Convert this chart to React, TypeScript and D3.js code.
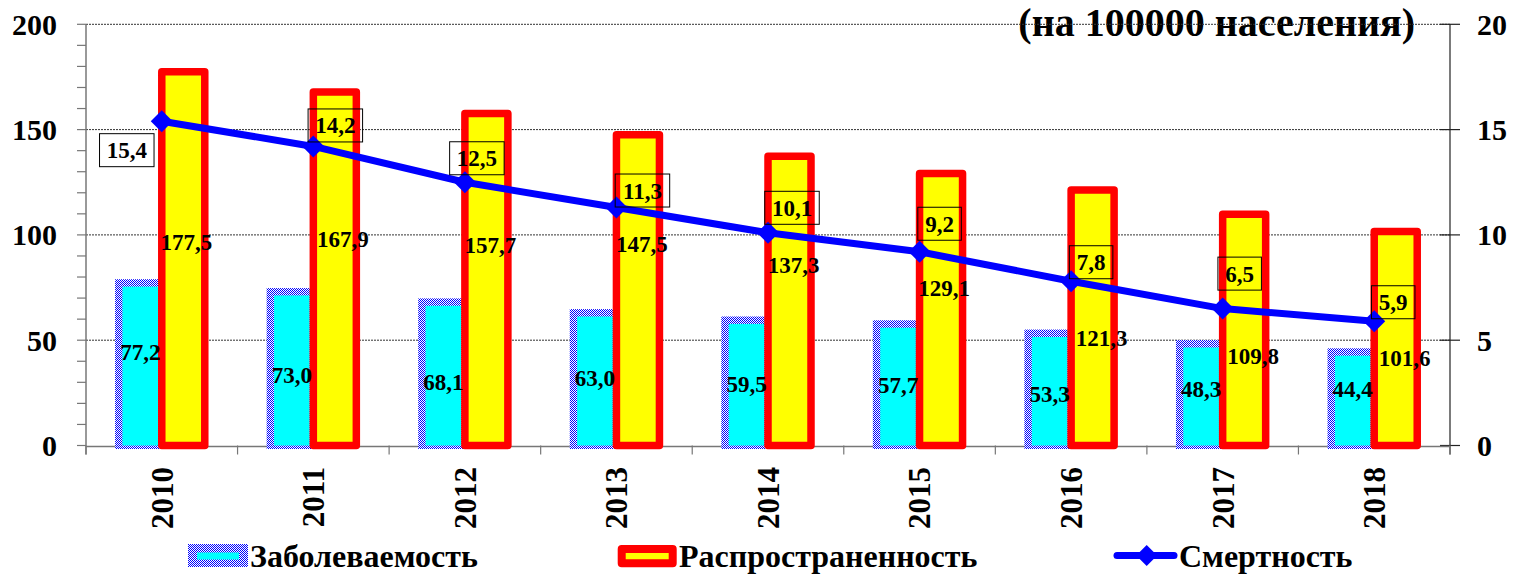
import React from "react";
import * as d3 from "d3";

// Incidence, prevalence and mortality per 100 000 population, 2010–2018
const years = ["2010", "2011", "2012", "2013", "2014", "2015", "2016", "2017", "2018"];
const incidence = [77.2, 73.0, 68.1, 63.0, 59.5, 57.7, 53.3, 48.3, 44.4];
const prevalence = [177.5, 167.9, 157.7, 147.5, 137.3, 129.1, 121.3, 109.8, 101.6];
const mortality = [15.4, 14.2, 12.5, 11.3, 10.1, 9.2, 7.8, 6.5, 5.9];
const leftTicks = [0, 50, 100, 150, 200];
const rightTicks = [0, 5, 10, 15, 20];
const seriesNames = ["Заболеваемость", "Распространенность", "Смертность"];
const unitTitle = "(на 100000 населения)";

// hand-placed label nudges (pixels)
const incLabelDy = [-12, 6, 8, -1, 1, 0, 5, -6, -10];
const prevLabelDx = [3, 8, 4, 4, 4, 3, 9, 9, 9];
const prevLabelDy = [-17, -30, -34, -46, -36, -22, 20, 26, 19];
const mortLabelDx = [-35, 22, 12, 26, 24, 20, 20, 17, 19];
const mortLabelDy = [29, -21, -24, -17, -25, -28, -19, -35, -19];

const fmt = (v: number) => v.toFixed(1).replace(".", ",");
const FONT = "'Liberation Serif', 'Times New Roman', serif";

export default function App() {
  const W = 1513;
  const H = 574;
  const left = 86;
  const right = 1450;
  const top = 24.3;
  const bottom = 445.5;

  const x = d3.scaleBand<string>().domain(years).range([left, right]).paddingInner(0).paddingOuter(0);
  const yL = d3.scaleLinear().domain([0, 200]).range([bottom, top]);
  const yR = d3.scaleLinear().domain([0, 20]).range([bottom, top]);
  const cx = (i: number) => (x(years[i]) as number) + x.bandwidth() / 2;
  const barW = 43;
  const minorTicks = d3.range(0, 201, 10);

  const line = d3
    .line<number>()
    .x((_, i) => cx(i))
    .y((d) => yR(d));

  const diamond = (r: number) => `M0,${-r}L${r},0L0,${r}L${-r},0Z`;
  const labelFs = 23;
  const boxW = (s: string) => (s.length - 1) * 22 * 0.5 + 22 * 0.25 + 16;

  return (
    <svg
      width={W}
      height={H}
      style={{ position: "absolute", left: 0, top: 0, background: "#fff" }}
      fontFamily={FONT}
      fontWeight="bold"
    >
      <defs>
        <pattern id="checker" width={2} height={2} patternUnits="userSpaceOnUse">
          <rect width={2} height={2} fill="#ffffff" />
          <rect width={1} height={1} fill="#0000ff" />
          <rect x={1} y={1} width={1} height={1} fill="#0000ff" />
        </pattern>
      </defs>

      {/* unit title */}
      <text x={1415} y={36} textAnchor="end" fontSize={40}>
        {unitTitle}
      </text>

      {/* gridlines */}
      {leftTicks
        .filter((t) => t > 0)
        .map((t) => (
          <line
            key={`g${t}`}
            x1={left}
            x2={right}
            y1={yL(t)}
            y2={yL(t)}
            stroke="#333"
            strokeWidth={1}
            strokeDasharray="2 1"
          />
        ))}

      {/* left axis */}
      <line x1={left} x2={left} y1={top} y2={bottom + 9} stroke="#777" strokeWidth={1.5} />
      {minorTicks.map((t) => (
        <line key={`m${t}`} x1={left - 9} x2={left} y1={yL(t)} y2={yL(t)} stroke="#777" strokeWidth={1.2} />
      ))}
      {leftTicks.map((t) => (
        <text key={`l${t}`} x={57} y={yL(t)} dy="0.35em" textAnchor="end" fontSize={30}>
          {t}
        </text>
      ))}

      {/* right axis */}
      <line x1={right} x2={right} y1={top} y2={bottom + 9} stroke="#222" strokeWidth={1.2} />
      {rightTicks.map((t) => (
        <line key={`rt${t}`} x1={right - 10} x2={right + 10} y1={yR(t)} y2={yR(t)} stroke="#222" strokeWidth={1.2} />
      ))}
      {rightTicks.map((t) => (
        <text key={`r${t}`} x={1477} y={yR(t)} dy="0.35em" textAnchor="start" fontSize={30}>
          {t}
        </text>
      ))}

      {/* category axis */}
      <line x1={left} x2={right} y1={bottom + 1} y2={bottom + 1} stroke="#777" strokeWidth={1.5} />
      {d3.range(years.length + 1).map((i) => {
        const xx = left + i * x.bandwidth();
        return <line key={`c${i}`} x1={xx} x2={xx} y1={bottom} y2={bottom + 9} stroke="#777" strokeWidth={1.2} />;
      })}
      {years.map((yr, i) => (
        <text
          key={yr}
          transform={`translate(${cx(i)},467) rotate(-90)`}
          dy="0.35em"
          textAnchor="end"
          fontSize={31}
        >
          {yr}
        </text>
      ))}

      {/* incidence bars: checkered border with cyan fill */}
      {incidence.map((v, i) => {
        const x0 = cx(i) - barW;
        const y0 = yL(v);
        const h = yL(0) - y0;
        return (
          <g key={`inc${i}`}>
            <rect x={x0 - 3.7} y={y0 - 3.7} width={barW + 7.4} height={h + 3.7 + 3.5} fill="url(#checker)" />
            <rect x={x0 + 3.7} y={y0 + 3.7} width={barW - 7.4} height={h - 3.7} fill="#00ffff" />
          </g>
        );
      })}

      {/* prevalence bars */}
      {prevalence.map((v, i) => {
        const y0 = yL(v);
        return (
          <rect
            key={`prev${i}`}
            x={cx(i)}
            y={y0}
            width={barW}
            height={yL(0) - y0}
            fill="#ffff00"
            stroke="#ff0000"
            strokeWidth={7.5}
            strokeLinejoin="round"
          />
        );
      })}

      {/* bar value labels */}
      {incidence.map((v, i) => (
        <text
          key={`il${i}`}
          x={cx(i) - barW / 2}
          y={(yL(v) + yL(0)) / 2 + incLabelDy[i]}
          dy="0.35em"
          textAnchor="middle"
          fontSize={labelFs}
        >
          {fmt(v)}
        </text>
      ))}
      {prevalence.map((v, i) => (
        <text
          key={`pl${i}`}
          x={cx(i) + barW / 2 + prevLabelDx[i]}
          y={(yL(v) + yL(0)) / 2 + prevLabelDy[i]}
          dy="0.35em"
          textAnchor="middle"
          fontSize={labelFs}
        >
          {fmt(v)}
        </text>
      ))}

      {/* mortality line */}
      <path d={line(mortality) as string} fill="none" stroke="#0000ff" strokeWidth={7} strokeLinejoin="round" />
      {mortality.map((v, i) => (
        <path key={`mk${i}`} d={diamond(11)} transform={`translate(${cx(i)},${yR(v)})`} fill="#0000ff" />
      ))}
      {mortality.map((v, i) => {
        const s = fmt(v);
        const bx = cx(i) + mortLabelDx[i];
        const by = yR(v) + mortLabelDy[i];
        const w = boxW(s);
        return (
          <g key={`ml${i}`}>
            <rect x={bx - w / 2} y={by - 16.5} width={w} height={33} fill="none" stroke="#000" strokeWidth={1} />
            <text x={bx} y={by} dy="0.35em" textAnchor="middle" fontSize={labelFs}>
              {s}
            </text>
          </g>
        );
      })}

      {/* legend */}
      <g>
        <rect x={188} y={544} width={60} height={23} fill="url(#checker)" />
        <rect x={197} y={552.5} width={42} height={7} fill="#00ffff" />
        <text x={250} y={566.5} fontSize={32}>
          {seriesNames[0]}
        </text>

        <rect
          x={621.7}
          y={549}
          width={51}
          height={14.3}
          fill="#ffff00"
          stroke="#ff0000"
          strokeWidth={8}
          strokeLinejoin="round"
        />
        <text x={679} y={566.5} fontSize={32}>
          {seriesNames[1]}
        </text>

        <line x1={1117} x2={1174} y1={555.5} y2={555.5} stroke="#0000ff" strokeWidth={7} strokeLinecap="round" />
        <path d={diamond(10.5)} transform="translate(1146.7,555.5)" fill="#0000ff" />
        <text x={1179} y={566.5} fontSize={32}>
          {seriesNames[2]}
        </text>
      </g>
    </svg>
  );
}
